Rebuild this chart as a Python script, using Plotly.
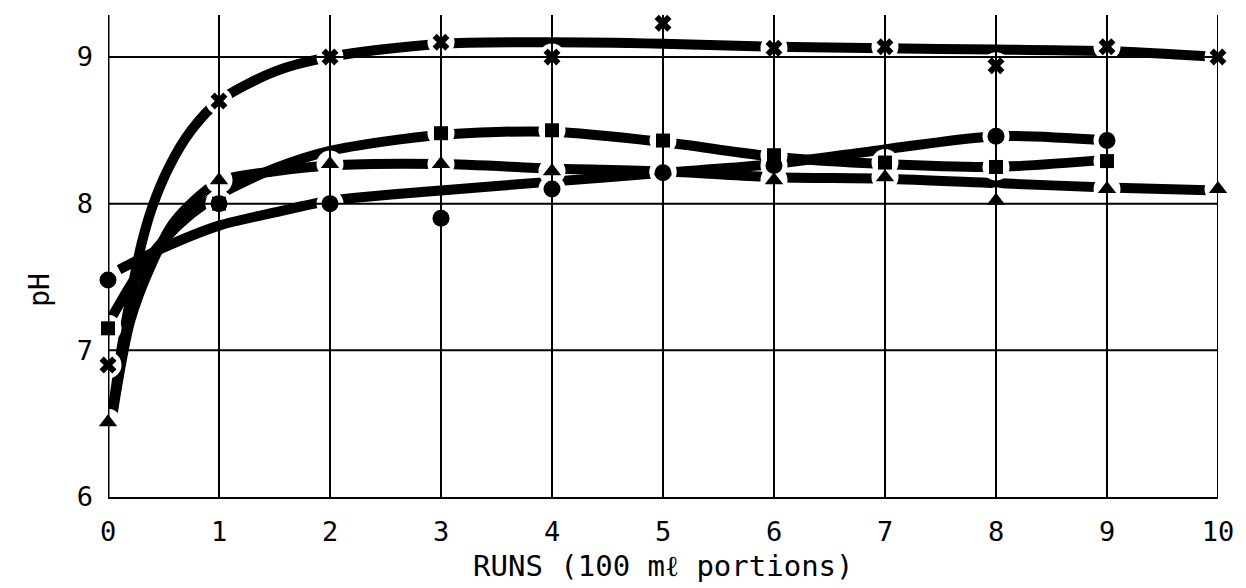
import plotly.graph_objects as go

# ---- measured pH values per run (100 mL portions) ----
cross_runs = [0, 1, 2, 3, 4, 5, 6, 7, 8, 9, 10]
cross_ph = [6.90, 8.70, 9.00, 9.10, 9.00, 9.23, 9.06, 9.07, 8.94, 9.07, 9.00]

square_runs = [0, 1, 3, 4, 5, 6, 7, 8, 9]
square_ph = [7.15, 8.00, 8.48, 8.50, 8.43, 8.33, 8.28, 8.25, 8.29]

circle_runs = [0, 1, 2, 3, 4, 5, 6, 8, 9]
circle_ph = [7.48, 8.00, 8.00, 7.90, 8.10, 8.21, 8.26, 8.46, 8.43]

triangle_runs = [0, 1, 2, 3, 4, 5, 6, 7, 8, 9, 10]
triangle_ph = [6.51, 8.16, 8.27, 8.27, 8.22, 8.22, 8.16, 8.18, 8.02, 8.10, 8.10]

# ---- hand-fitted trend curves through each series ----
cross_fit_x = [0.04, 0.12, 0.2, 0.3, 0.4, 0.55, 0.75, 1, 1.5, 2, 3, 4, 5, 6, 7, 8, 9, 10]
cross_fit_y = [6.58, 7.0, 7.35, 7.72, 7.98, 8.25, 8.5, 8.7, 8.9, 9.0, 9.09, 9.1, 9.09, 9.07, 9.06, 9.05, 9.04, 9.0]

square_fit_x = [0, 0.25, 0.5, 0.75, 1, 1.5, 2, 3, 4, 5, 6, 7, 8, 9]
square_fit_y = [7.18, 7.5, 7.75, 7.93, 8.06, 8.24, 8.36, 8.47, 8.49, 8.42, 8.32, 8.27, 8.25, 8.30]

circle_fit_x = [0.1, 0.5, 1, 1.5, 2, 3, 4, 5, 6, 7, 8, 9]
circle_fit_y = [7.55, 7.7, 7.85, 7.94, 8.02, 8.09, 8.15, 8.21, 8.27, 8.37, 8.46, 8.43]

triangle_fit_x = [0.04, 0.2, 0.4, 0.6, 1, 1.5, 2, 3, 4, 5, 6, 7, 8, 9, 10]
triangle_fit_y = [6.56, 7.2, 7.6, 7.88, 8.15, 8.22, 8.26, 8.27, 8.24, 8.22, 8.18, 8.17, 8.14, 8.11, 8.09]

# ---- axes ----
x_ticks = [0, 1, 2, 3, 4, 5, 6, 7, 8, 9, 10]
y_ticks = [6, 7, 8, 9]
y_top = 9.286

FONT = "DejaVu Sans Mono"
INK = "black"

fig = go.Figure()

curves = [
    (cross_fit_x, cross_fit_y),
    (square_fit_x, square_fit_y),
    (circle_fit_x, circle_fit_y),
    (triangle_fit_x, triangle_fit_y),
]
for cx, cy in curves:
    fig.add_trace(go.Scatter(
        x=cx, y=cy, mode="lines",
        line=dict(color=INK, width=10, shape="spline", smoothing=0.8),
        hoverinfo="skip", showlegend=False,
    ))

series = [
    (cross_runs, cross_ph, "x", 15),
    (square_runs, square_ph, "square", 14),
    (circle_runs, circle_ph, "circle", 17),
    (triangle_runs, triangle_ph, "triangle-up", 16),
]

# white halo under each marker breaks the curve where it meets a point
for rx, ry, sym, size in series:
    fig.add_trace(go.Scatter(
        x=rx, y=ry, mode="markers", cliponaxis=False,
        marker=dict(symbol="circle", size=27, color="white", line=dict(width=0)),
        hoverinfo="skip", showlegend=False,
    ))

for rx, ry, sym, size in series:
    fig.add_trace(go.Scatter(
        x=rx, y=ry, mode="markers", cliponaxis=False,
        marker=dict(symbol=sym, size=size, color=INK, line=dict(width=0)),
        showlegend=False,
    ))

# grid drawn on top so it runs through the marker halos
shapes = []
for xv in x_ticks[1:]:
    shapes.append(dict(type="line", xref="x", yref="y", x0=xv, x1=xv, y0=y_ticks[0], y1=y_top,
                       line=dict(color=INK, width=2), layer="above"))
for yv in y_ticks[1:]:
    shapes.append(dict(type="line", xref="x", yref="y", x0=x_ticks[0], x1=x_ticks[-1], y0=yv, y1=yv,
                       line=dict(color=INK, width=2), layer="above"))
# left axis rule, kept above the halos
shapes.append(dict(type="line", xref="x", yref="y", x0=x_ticks[0], x1=x_ticks[0], y0=y_ticks[0], y1=y_top,
                   line=dict(color=INK, width=3), layer="above"))

fig.update_layout(
    width=1246, height=588,
    margin=dict(l=108, r=18, t=15, b=91),
    paper_bgcolor="white", plot_bgcolor="white",
    font=dict(family=FONT, color=INK, size=27),
    shapes=shapes,
    annotations=[
        dict(text="pH", xref="paper", yref="paper", x=0, y=0.43, xshift=-68,
             xanchor="center", yanchor="middle", textangle=-90, showarrow=False,
             font=dict(family=FONT, size=28, color=INK)),
        dict(text="RUNS (100 m\u2113 portions)", xref="paper", yref="paper", x=0.5, y=0,
             yshift=-69, xanchor="center", yanchor="middle", showarrow=False,
             font=dict(family=FONT, size=29, color=INK)),
    ],
)
fig.update_xaxes(
    range=[x_ticks[0], x_ticks[-1]], tickvals=x_ticks, ticktext=[str(v) for v in x_ticks],
    showgrid=False, zeroline=False, showline=True, linecolor=INK, linewidth=2,
    ticks="", ticklabelstandoff=10, tickfont=dict(family=FONT, size=27, color=INK),
)
fig.update_yaxes(
    range=[y_ticks[0], y_top], tickvals=y_ticks, ticktext=[str(v) for v in y_ticks],
    showgrid=False, zeroline=False, showline=False,
    ticks="", ticklabelstandoff=14, tickfont=dict(family=FONT, size=27, color=INK),
)

fig.write_html("out.html")
